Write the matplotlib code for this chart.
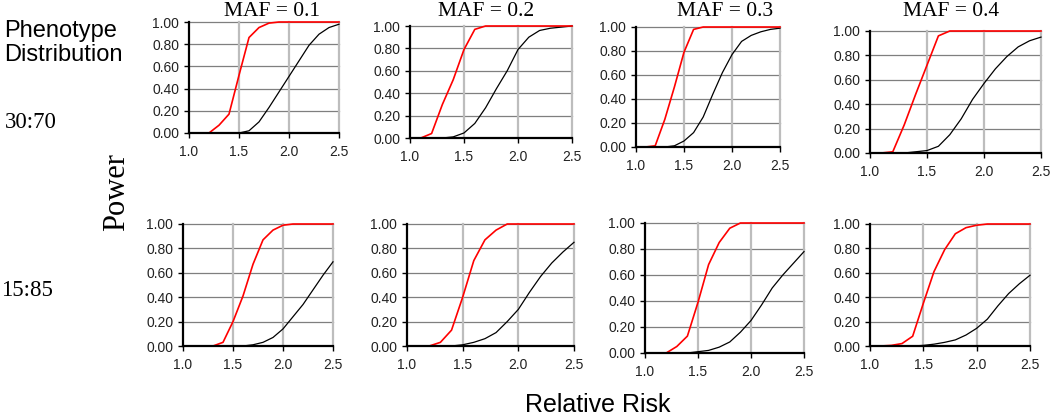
import matplotlib
matplotlib.use("Agg")
import matplotlib.pyplot as plt
from matplotlib.ticker import FormatStrFormatter

# relative risk values on the x axis
rel_risk = [1.0, 1.1, 1.2, 1.3, 1.4, 1.5, 1.6, 1.7, 1.8, 1.9, 2.0, 2.1, 2.2, 2.3, 2.4, 2.5]

maf_labels = ["MAF = 0.1", "MAF = 0.2", "MAF = 0.3", "MAF = 0.4"]
pheno_labels = ["30:70", "15:85"]

# power, 30:70 phenotype distribution (red / black curves)
red_30_70 = [
    [0, 0, 0, 0.07, 0.17, 0.52, 0.86, 0.95, 0.99, 1.0, 1.0, 1.0, 1.0, 1.0, 1.0, 1.0],
    [0, 0, 0.04, 0.30, 0.52, 0.79, 0.97, 1.0, 1.0, 1.0, 1.0, 1.0, 1.0, 1.0, 1.0, 1.0],
    [0, 0, 0.01, 0.23, 0.50, 0.79, 0.98, 1.0, 1.0, 1.0, 1.0, 1.0, 1.0, 1.0, 1.0, 1.0],
    [0, 0, 0.01, 0.23, 0.48, 0.72, 0.96, 1.0, 1.0, 1.0, 1.0, 1.0, 1.0, 1.0, 1.0, 1.0],
]
black_30_70 = [
    [0, 0, 0, 0, 0, 0.0, 0.02, 0.10, 0.23, 0.37, 0.51, 0.65, 0.79, 0.89, 0.95, 0.98],
    [0, 0, 0, 0, 0.01, 0.045, 0.13, 0.27, 0.44, 0.60, 0.79, 0.90, 0.96, 0.98, 0.99, 1.0],
    [0, 0, 0, 0, 0.01, 0.05, 0.12, 0.25, 0.44, 0.62, 0.77, 0.88, 0.93, 0.96, 0.98, 0.99],
    [0, 0, 0, 0, 0.01, 0.02, 0.055, 0.15, 0.28, 0.44, 0.57, 0.69, 0.79, 0.87, 0.92, 0.95],
]

# power, 15:85 phenotype distribution
red_15_85 = [
    [0, 0, 0, 0, 0.03, 0.20, 0.41, 0.67, 0.87, 0.95, 0.99, 1.0, 1.0, 1.0, 1.0, 1.0],
    [0, 0, 0, 0.03, 0.13, 0.40, 0.70, 0.87, 0.95, 1.0, 1.0, 1.0, 1.0, 1.0, 1.0, 1.0],
    [0, 0, 0, 0.05, 0.13, 0.39, 0.68, 0.85, 0.96, 1.0, 1.0, 1.0, 1.0, 1.0, 1.0, 1.0],
    [0, 0, 0.005, 0.02, 0.08, 0.35, 0.61, 0.79, 0.92, 0.97, 0.99, 1.0, 1.0, 1.0, 1.0, 1.0],
]
black_15_85 = [
    [0, 0, 0, 0, 0, 0, 0.0, 0.01, 0.03, 0.07, 0.14, 0.24, 0.34, 0.46, 0.58, 0.69],
    [0, 0, 0, 0, 0, 0.01, 0.03, 0.06, 0.11, 0.20, 0.30, 0.44, 0.57, 0.68, 0.77, 0.85],
    [0, 0, 0, 0, 0, 0.01, 0.02, 0.045, 0.085, 0.16, 0.25, 0.37, 0.50, 0.60, 0.69, 0.78],
    [0, 0, 0, 0, 0, 0.005, 0.015, 0.03, 0.05, 0.09, 0.145, 0.22, 0.33, 0.43, 0.51, 0.58],
]

W, H = 1050, 417
# panel boxes in pixels: left, right, top, bottom (panels are not perfectly aligned)
boxes_top = [(189, 339, 22, 133), (410, 572, 26, 138), (636, 780, 27, 147), (870, 1041, 31, 153)]
boxes_bot = [(183, 333, 224, 346), (407, 574, 224, 346), (645, 804, 223, 353), (870, 1030, 224, 346)]
title_x = [272, 486, 725, 951]

sans = "Liberation Sans"
serif = "Liberation Serif"

fig = plt.figure(figsize=(W / 100, H / 100), dpi=100)


def draw_panel(box, red, black):
    l, r, t, b = box
    ax = fig.add_axes([l / W, 1 - b / H, (r - l) / W, (b - t) / H])
    ax.set_xlim(1.0, 2.5)
    ax.set_ylim(0, 1.0)
    ax.set_xticks([1.0, 1.5, 2.0, 2.5])
    ax.set_yticks([0, 0.2, 0.4, 0.6, 0.8, 1.0])
    ax.xaxis.set_major_formatter(FormatStrFormatter("%.1f"))
    ax.yaxis.set_major_formatter(FormatStrFormatter("%.2f"))

    # gridlines drawn by hand so the edge ones are not clipped
    for yv in [0.2, 0.4, 0.6, 0.8, 1.0]:
        ax.axhline(yv, color="#7f7f7f", lw=0.9, zorder=1, clip_on=False)
    for xv in [1.5, 2.0, 2.5]:
        ax.axvline(xv, color="#bdbdbd", lw=1.6, zorder=1, clip_on=False)

    ax.plot(rel_risk, black, color="black", lw=0.9, zorder=3, clip_on=False)
    ax.plot(rel_risk, red, color="#ff0000", lw=1.2, zorder=4, clip_on=False)

    for side in ["top", "right"]:
        ax.spines[side].set_visible(False)
    for side in ["left", "bottom"]:
        ax.spines[side].set_linewidth(1.6)
        ax.spines[side].set_zorder(5)
    ax.tick_params(direction="out", length=3.5, width=1.0, pad=3.5,
                   labelsize=10, colors="black")
    for lab in ax.get_xticklabels() + ax.get_yticklabels():
        lab.set_fontfamily(sans)
        lab.set_color("#222222")
    ax.tick_params(axis="x", pad=5)
    ax.patch.set_alpha(0)
    return ax


for i in range(4):
    draw_panel(boxes_top[i], red_30_70[i], black_30_70[i])
    draw_panel(boxes_bot[i], red_15_85[i], black_15_85[i])
    fig.text(title_x[i] / W, 1 - 16 / H, maf_labels[i], family=serif,
             fontsize=15.5, ha="center", va="baseline")

fig.text(4 / W, 1 - 43 / H, "Phenotype\nDistribution", family=sans,
         fontsize=17, ha="left", va="center", linespacing=1.1)
fig.text(5 / W, 1 - 123 / H, pheno_labels[0], family=serif,
         fontsize=16.5, ha="left", va="center")
fig.text(1 / W, 1 - 290 / H, pheno_labels[1], family=serif,
         fontsize=16.5, ha="left", va="center")
fig.text(117 / W, 1 - 192 / H, "Power", family=serif, fontsize=22,
         rotation=90, ha="center", va="center")
fig.text(598 / W, 1 - 405 / H, "Relative Risk", family=sans,
         fontsize=18, ha="center", va="center")

fig.savefig("out.png", dpi=100)
